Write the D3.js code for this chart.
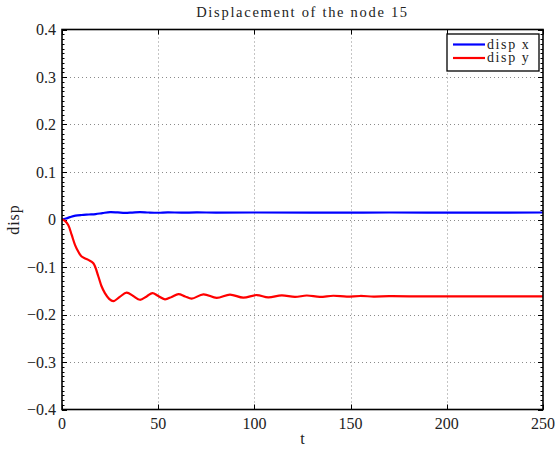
<!DOCTYPE html>
<html>
<head>
<meta charset="utf-8">
<script src="https://cdn.jsdelivr.net/npm/d3@7"></script>
<style>
  body { margin: 0; background: #fff; }
  text { font-family: "Liberation Serif", "DejaVu Serif", serif; fill: #222; }
</style>
</head>
<body>
<div id="chart"></div>
<script>
var width = 555,
    height = 450,
    margin = {top: 30, right: 12, bottom: 40, left: 62};

// t values and displacement readings
var tX    = [0, 2, 4.2, 7, 10.2, 14, 17.5, 21, 25, 29, 32.7, 36.5, 40.5, 45, 50, 55, 62, 70, 80, 100, 130, 170, 210, 250];
var dispX = [0, 0.002, 0.005, 0.008, 0.0095, 0.0105, 0.0115, 0.0135, 0.0156, 0.0148, 0.0138, 0.0146, 0.0156, 0.0147, 0.0142, 0.015, 0.0144, 0.0149, 0.0145, 0.0147, 0.0146, 0.0147, 0.0146, 0.0147];

var tY    = [0, 1.5, 3.3, 5, 6.8, 8.5, 10.2, 12, 13.7, 16.3, 18.9, 20.5, 22.3, 24.5, 26.6, 30, 33.6, 37, 40.5, 44, 47, 50, 53.5, 57, 60.5, 64, 67.4, 73.5, 80.4, 87.3, 94.2, 101.2, 107.2, 114.2, 121.1, 127.2, 134, 141, 148, 155, 162, 170, 190, 220, 250];
var dispY = [0, -0.003, -0.012, -0.032, -0.054, -0.068, -0.078, -0.082, -0.085, -0.092, -0.12, -0.14, -0.155, -0.167, -0.172, -0.163, -0.154, -0.161, -0.169, -0.162, -0.155, -0.161, -0.168, -0.163, -0.157, -0.162, -0.1667, -0.1575, -0.165, -0.158, -0.1646, -0.159, -0.164, -0.1597, -0.163, -0.160, -0.1628, -0.1605, -0.1625, -0.161, -0.1622, -0.1615, -0.162, -0.1618, -0.162];

var xTicks = [0, 50, 100, 150, 200, 250];
var yTicks = [-0.4, -0.3, -0.2, -0.1, 0, 0.1, 0.2, 0.3, 0.4];
var yMinor = d3.range(-40, 41).map(function(i) { return i / 100; });

var seriesNames = ["disp x", "disp y"];
var seriesColors = ["#0000ff", "#ff0000"];

var svg = d3.select("#chart").append("svg")
    .attr("width", width)
    .attr("height", height);

var x = d3.scaleLinear().domain([0, 250]).range([margin.left, 543]);
var y = d3.scaleLinear().domain([-0.4, 0.4]).range([409.5, 29.5]);

var x0 = x.range()[0], x1 = x.range()[1],
    y0 = y.range()[0], y1 = y.range()[1];

// grid
var grid = svg.append("g")
    .attr("stroke", "#8a8a8a")
    .attr("stroke-width", 1)
    .attr("stroke-dasharray", "1,3");

grid.selectAll(".gx")
  .data(xTicks.slice(1, -1))
  .enter().append("line")
    .attr("x1", function(d) { return Math.round(x(d)) + 0.5; })
    .attr("x2", function(d) { return Math.round(x(d)) + 0.5; })
    .attr("y1", y1).attr("y2", y0);

grid.selectAll(".gy")
  .data(yTicks.slice(1, -1))
  .enter().append("line")
    .attr("y1", function(d) { return Math.round(y(d)) + 0.5; })
    .attr("y2", function(d) { return Math.round(y(d)) + 0.5; })
    .attr("x1", x0).attr("x2", x1);

// ticks, inward on all sides
var ticks = svg.append("g").attr("stroke", "#000").attr("stroke-width", 1);

xTicks.forEach(function(d) {
  var px = Math.round(x(d)) + 0.5;
  ticks.append("line").attr("x1", px).attr("x2", px).attr("y1", y0).attr("y2", y0 - 5);
  ticks.append("line").attr("x1", px).attr("x2", px).attr("y1", y1).attr("y2", y1 + 5);
});

yMinor.forEach(function(d) {
  var py = Math.round(y(d)) + 0.5;
  var major = yTicks.some(function(v) { return Math.abs(v - d) < 1e-9; });
  var len = major ? 5 : 2.5;
  ticks.append("line").attr("x1", x0).attr("x2", x0 + len).attr("y1", py).attr("y2", py);
  ticks.append("line").attr("x1", x1).attr("x2", x1 - len).attr("y1", py).attr("y2", py);
});

// lines
var lineGen = d3.line()
    .x(function(d) { return x(d[0]); })
    .y(function(d) { return y(d[1]); })
    .curve(d3.curveCatmullRom.alpha(0.5));

var seriesData = [d3.zip(tX, dispX), d3.zip(tY, dispY)];

svg.append("g").selectAll("path")
  .data(seriesData)
  .enter().append("path")
    .attr("d", lineGen)
    .attr("fill", "none")
    .attr("stroke", function(d, i) { return seriesColors[i]; })
    .attr("stroke-width", 2.2)
    .attr("stroke-linejoin", "round");

// axes box
svg.append("rect")
    .attr("x", x0).attr("y", y1)
    .attr("width", x1 - x0).attr("height", y0 - y1)
    .attr("fill", "none")
    .attr("stroke", "#000")
    .attr("stroke-width", 1.6);

// tick labels
svg.append("g").selectAll("text")
  .data(xTicks)
  .enter().append("text")
    .attr("x", function(d) { return x(d); })
    .attr("y", 428.5)
    .attr("text-anchor", "middle")
    .attr("font-size", 16)
    .text(function(d) { return d; });

svg.append("g").selectAll("text")
  .data(yTicks)
  .enter().append("text")
    .attr("x", 56)
    .attr("y", function(d) { return y(d) + 5.5; })
    .attr("text-anchor", "end")
    .attr("font-size", 16)
    .text(function(d) { return d === 0 ? "0" : (d < 0 ? "\u2212" + Math.abs(d) : d); });

// labels
svg.append("text")
    .attr("x", (x0 + x1) / 2)
    .attr("y", 17)
    .attr("text-anchor", "middle")
    .attr("font-size", 14.5)
    .attr("letter-spacing", 1.7)
    .text("Displacement of the node 15");

svg.append("text")
    .attr("x", (x0 + x1) / 2)
    .attr("y", 444)
    .attr("text-anchor", "middle")
    .attr("font-size", 16)
    .text("t");

svg.append("text")
    .attr("transform", "translate(19," + y(0) + ") rotate(-90)")
    .attr("text-anchor", "middle")
    .attr("font-size", 16)
    .attr("letter-spacing", 1)
    .text("disp");

// legend
var legend = svg.append("g");
legend.append("rect")
    .attr("x", 447).attr("y", 34)
    .attr("width", 92).attr("height", 37)
    .attr("fill", "#fff")
    .attr("stroke", "#000")
    .attr("stroke-width", 1.3);

seriesNames.forEach(function(name, i) {
  var ly = 44.5 + i * 13.5;
  legend.append("line")
      .attr("x1", 453).attr("x2", 485)
      .attr("y1", ly).attr("y2", ly)
      .attr("stroke", seriesColors[i])
      .attr("stroke-width", 2.2);
  legend.append("text")
      .attr("x", 487)
      .attr("y", ly + 4)
      .attr("font-size", 14)
      .attr("letter-spacing", 1.6)
      .text(name);
});
</script>
</body>
</html>
